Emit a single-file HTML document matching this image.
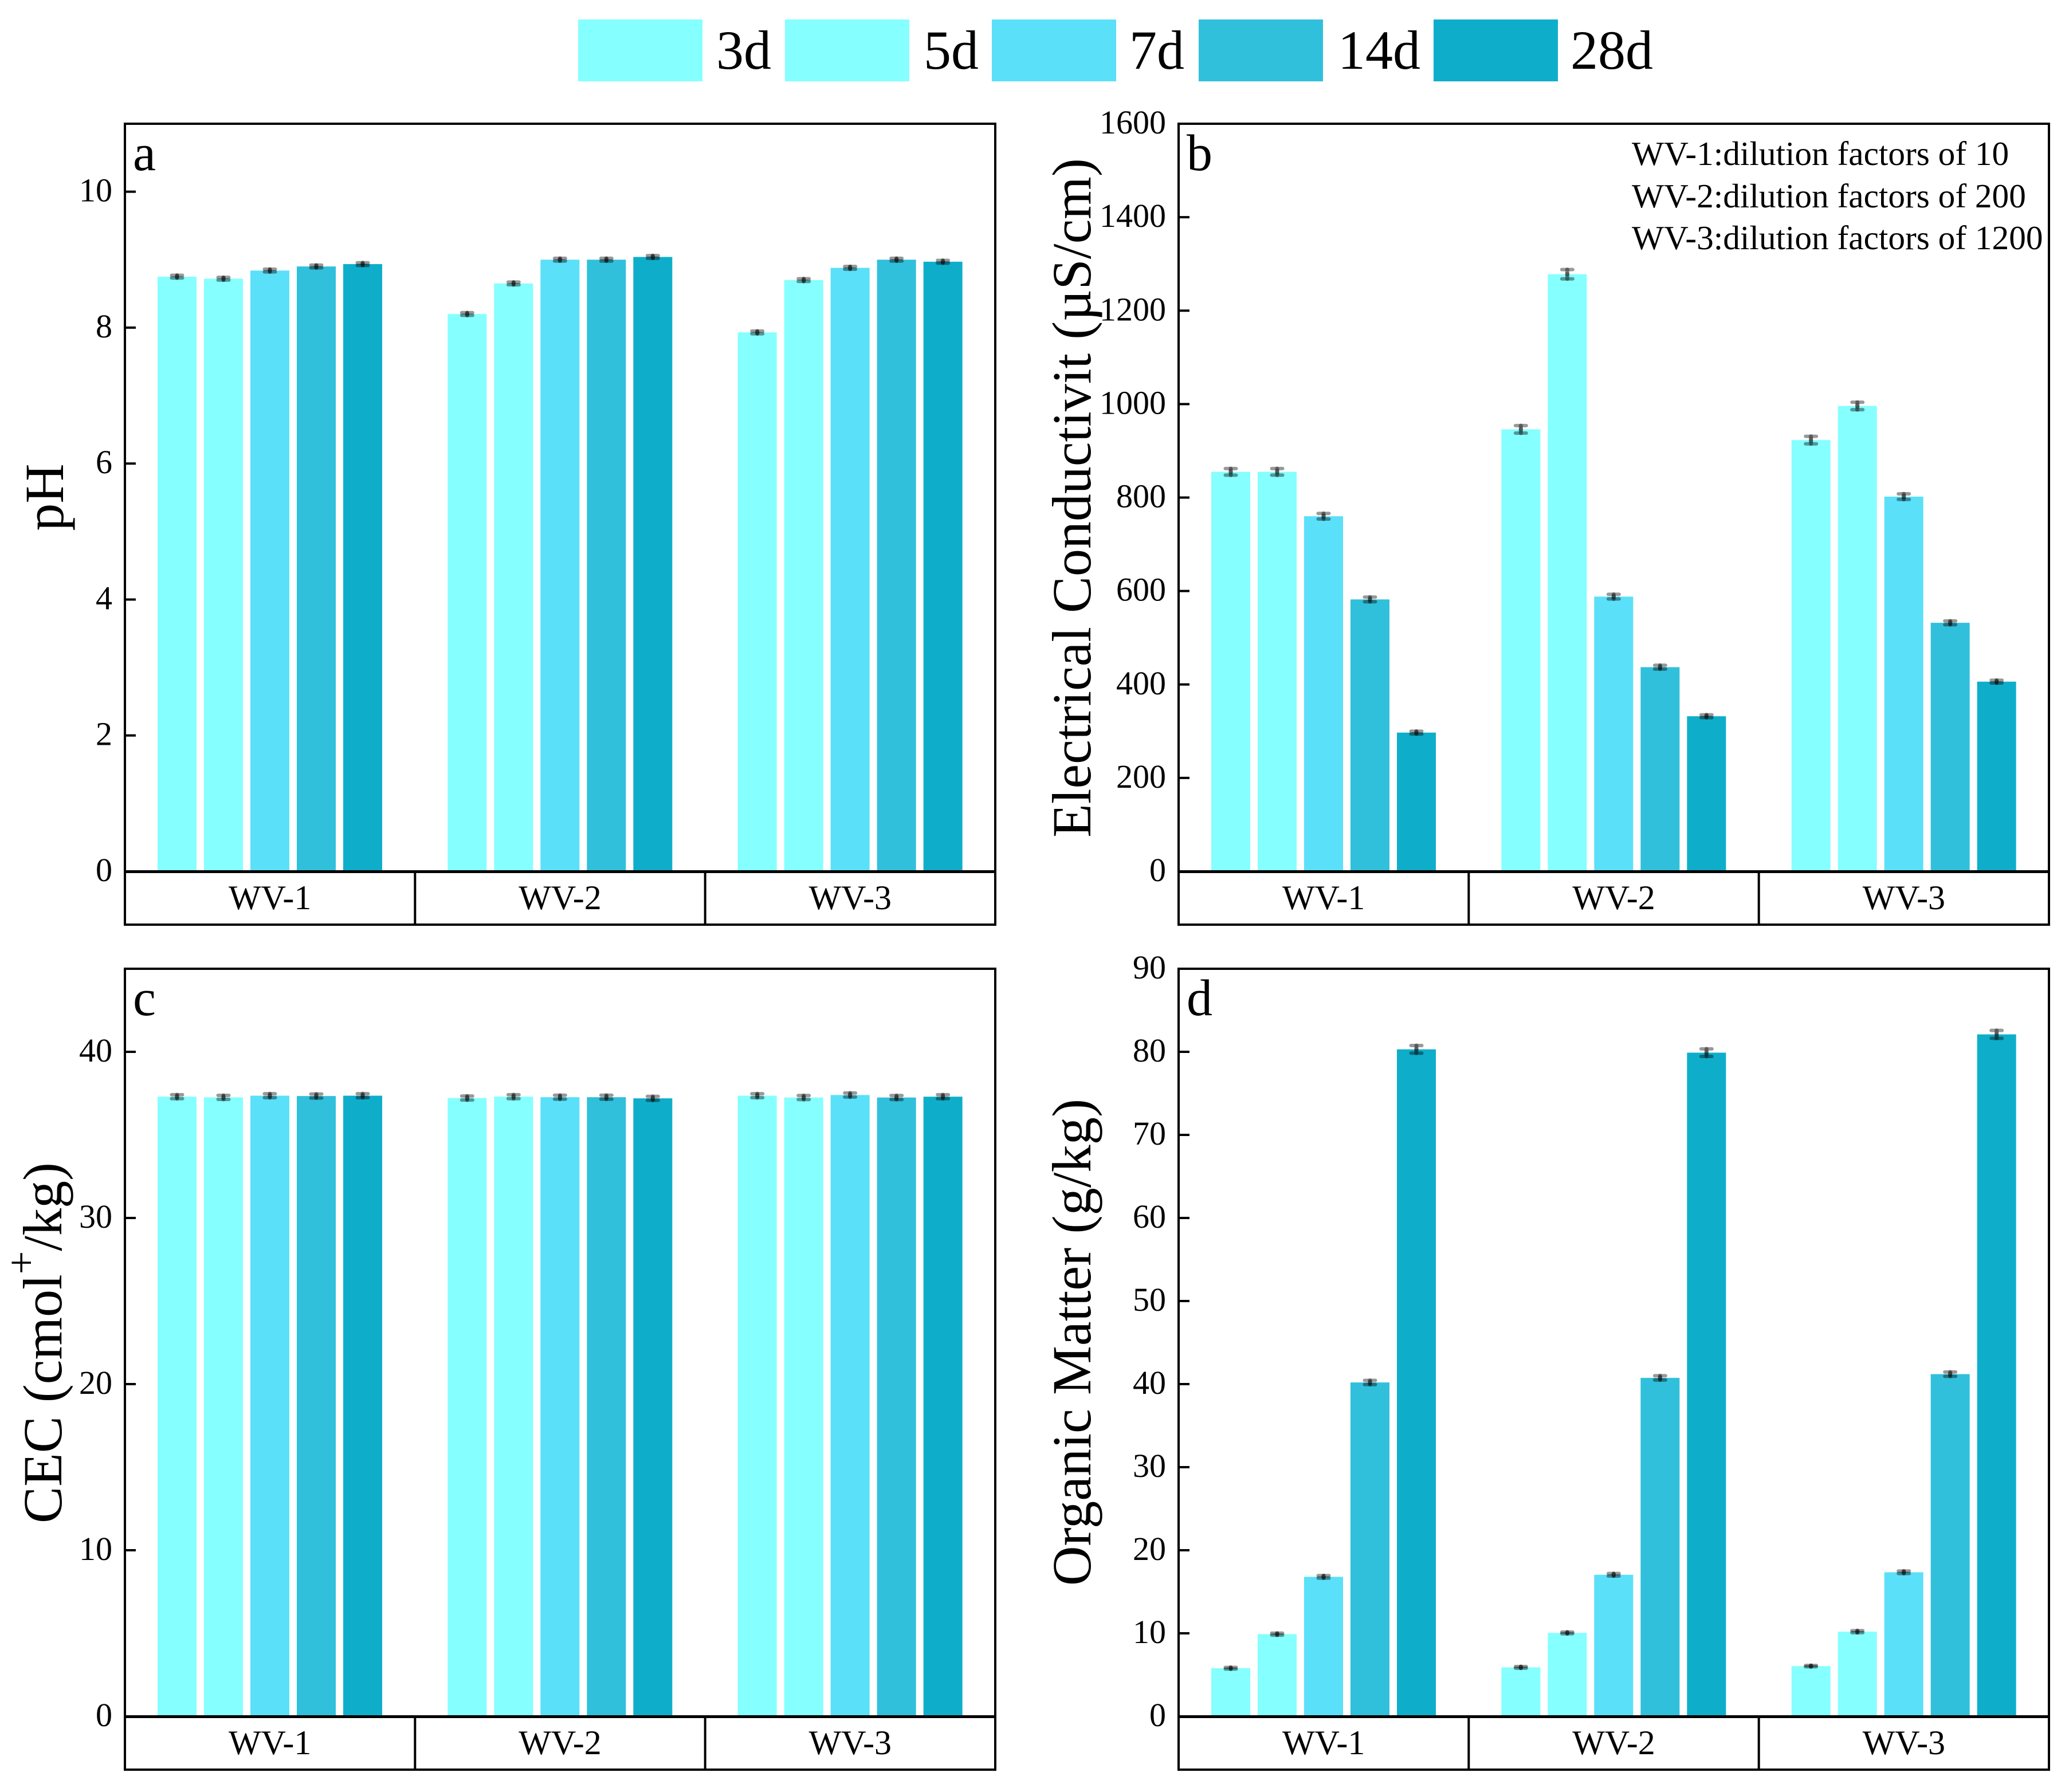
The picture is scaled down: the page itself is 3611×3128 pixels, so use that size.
<!DOCTYPE html>
<html lang="en">
<head>
<meta charset="utf-8">
<title>Soil properties by treatment</title>
<style>
html,body{margin:0;padding:0;background:#fff}
svg{display:block}
text{font-family:"Liberation Serif","Times New Roman",serif;fill:#000}
</style>
</head>
<body>
<svg id="chart" xmlns="http://www.w3.org/2000/svg" width="3611" height="3128" viewBox="0 0 3611 3128">
<rect x="0" y="0" width="3611" height="3128" fill="#ffffff"/>
<g>
<rect x="1009" y="34" width="217" height="108" fill="#85ffff"/>
<text x="1250" y="120" font-size="96">3d</text>
<rect x="1370" y="34" width="217" height="108" fill="#85ffff"/>
<text x="1612" y="120" font-size="96">5d</text>
<rect x="1731" y="34" width="217" height="108" fill="#5be0f9"/>
<text x="1971" y="120" font-size="96">7d</text>
<rect x="2092" y="34" width="217" height="108" fill="#31c0db"/>
<text x="2335" y="120" font-size="96">14d</text>
<rect x="2502" y="34" width="217" height="108" fill="#0eaecb"/>
<text x="2741" y="120" font-size="96">28d</text>
</g>
<text transform="translate(110,868) rotate(-90)" text-anchor="middle" font-size="96">pH</text>
<text transform="translate(1903,869) rotate(-90)" text-anchor="middle" font-size="96">Electrical Conductivit (µS/cm)</text>
<text transform="translate(107,2344) rotate(-90)" text-anchor="middle" font-size="96">CEC (cmol<tspan font-size="72" dy="-46">+</tspan><tspan dy="46">/kg)</tspan></text>
<text transform="translate(1903,2343) rotate(-90)" text-anchor="middle" font-size="96.5">Organic Matter (g/kg)</text>
<g>
<text x="2848" y="288" font-size="59.3">WV-1:dilution factors of 10</text>
<text x="2848" y="362" font-size="59.3">WV-2:dilution factors of 200</text>
<text x="2848" y="435" font-size="59.3">WV-3:dilution factors of 1200</text>
</g>
<g id="plots"></g>
</svg>
<script>
const categories = ['WV-1', 'WV-2', 'WV-3'];
const seriesNames = ['3d', '5d', '7d', '14d', '28d'];
const seriesColors = ['#85ffff', '#85ffff', '#5be0f9', '#31c0db', '#0eaecb'];

const phValues = [[8.75, 8.72, 8.84, 8.90, 8.935], [8.20, 8.65, 9.00, 9.00, 9.04], [7.93, 8.70, 8.88, 9.00, 8.97]];
const phErrors = [[0.02, 0.02, 0.02, 0.02, 0.02], [0.02, 0.02, 0.02, 0.02, 0.02], [0.02, 0.02, 0.02, 0.02, 0.02]];
const phTicks = [0, 2, 4, 6, 8, 10];
const phMax = 11;

const ecValues = [[855, 855, 760, 582, 297], [946, 1278, 588, 437, 332], [923, 996, 802, 532, 406]];
const ecErrors = [[7, 7, 6, 5, 3], [8, 10, 5, 4, 3], [8, 8, 6, 4, 3]];
const ecTicks = [0, 200, 400, 600, 800, 1000, 1200, 1400, 1600];
const ecMax = 1600;

const cecValues = [[37.3, 37.26, 37.36, 37.34, 37.36], [37.22, 37.3, 37.27, 37.27, 37.2], [37.36, 37.25, 37.4, 37.25, 37.3]];
const cecErrors = [[0.12, 0.12, 0.12, 0.12, 0.12], [0.12, 0.12, 0.12, 0.12, 0.12], [0.12, 0.12, 0.12, 0.12, 0.12]];
const cecTicks = [0, 10, 20, 30, 40];
const cecMax = 45;

const omValues = [[5.8, 9.9, 16.8, 40.2, 80.3], [5.9, 10.05, 17.05, 40.75, 79.9], [6.05, 10.2, 17.35, 41.2, 82.1]];
const omErrors = [[0.1, 0.12, 0.15, 0.25, 0.46], [0.1, 0.1, 0.15, 0.26, 0.45], [0.08, 0.12, 0.15, 0.26, 0.48]];
const omTicks = [0, 10, 20, 30, 40, 50, 60, 70, 80, 90];
const omMax = 90;

const SVG_NS = 'http://www.w3.org/2000/svg';
const root = document.getElementById('plots');

function mk(tag, attrs, parent) {
  const el = document.createElementNS(SVG_NS, tag);
  for (const k in attrs) el.setAttribute(k, attrs[k]);
  parent.appendChild(el);
  return el;
}

function drawPanel(key, letter, left, top, values, errors, ticks, maxValue) {
  const plotW = 1519, plotH = 1305, boxH = 93, stroke = 4;
  const right = left + plotW, zero = top + plotH, bottom = zero + boxH;
  const barW = 68, barPitch = 81, groupPitch = plotW / categories.length, barOffset = 57;
  const yScale = v => zero - (v / maxValue) * plotH;
  const xScale = (g, s) => left + barOffset + g * groupPitch + s * barPitch;

  const panel = mk('g', {}, root);
  
  

  values.forEach((group, g) => {
    group.forEach((v, s) => {
      const bar = mk('rect', { x: xScale(g, s), y: yScale(v), width: barW, height: zero - yScale(v), fill: seriesColors[s] }, panel);
      
      
    });
  });

  values.forEach((group, g) => {
    group.forEach((v, s) => {
      const cx = xScale(g, s) + barW / 2;
      const err = errors[g][s];
      const hi = yScale(v + err), lo = yScale(v - err), mid = yScale(v);
      const eb = mk('g', { stroke: '#000', 'stroke-opacity': '0.4', 'stroke-linecap': 'round', fill: 'none' }, panel);
      
      
      mk('line', { x1: cx - 9.5, x2: cx + 9.5, y1: hi, y2: hi, 'stroke-width': 6 }, eb);
      mk('line', { x1: cx - 9.5, x2: cx + 9.5, y1: lo, y2: lo, 'stroke-width': 6 }, eb);
      mk('line', { x1: cx, x2: cx, y1: hi, y2: mid + 1, 'stroke-width': 7 }, eb);
      mk('line', { x1: cx, x2: cx, y1: mid - 1, y2: lo, 'stroke-width': 7 }, eb);
    });
  });

  const frame = mk('rect', { x: left, y: top, width: plotW, height: plotH + boxH, fill: 'none', stroke: '#000', 'stroke-width': stroke }, panel);
  
  

  const axisLine = mk('line', { x1: left, x2: right, y1: zero + 0.5, y2: zero + 0.5, stroke: '#000', 'stroke-width': 5 }, panel);
  
  

  ticks.forEach(t => {
    const y = yScale(t);
    if (t !== 0 && t !== maxValue) {
      const tick = mk('line', { x1: left, x2: left + 19, y1: y, y2: y, stroke: '#000', 'stroke-width': stroke }, panel);
      
      
    }
    const label = mk('text', { x: left - 22, y: y + 17, 'text-anchor': 'end', 'font-size': 58 }, panel);
    label.textContent = String(t);
    
    
  });

  categories.forEach((c, g) => {
    if (g > 0) {
      const div = mk('line', { x1: left + g * groupPitch, x2: left + g * groupPitch, y1: zero, y2: bottom, stroke: '#000', 'stroke-width': stroke }, panel);
      
      
    }
    const label = mk('text', { x: left + (g + 0.5) * groupPitch, y: zero + 66, 'text-anchor': 'middle', 'font-size': 60 }, panel);
    label.textContent = c;
    
    
  });

  const letterEl = mk('text', { x: left + 14, y: top + 81, 'font-size': 90 }, panel);
  letterEl.textContent = letter;
  
  
}

drawPanel('ph', 'a', 218, 216, phValues, phErrors, phTicks, phMax);
drawPanel('electrical-conductivity', 'b', 2057, 216, ecValues, ecErrors, ecTicks, ecMax);
drawPanel('cec', 'c', 218, 1691, cecValues, cecErrors, cecTicks, cecMax);
drawPanel('organic-matter', 'd', 2057, 1691, omValues, omErrors, omTicks, omMax);
</script>
</body>
</html>
